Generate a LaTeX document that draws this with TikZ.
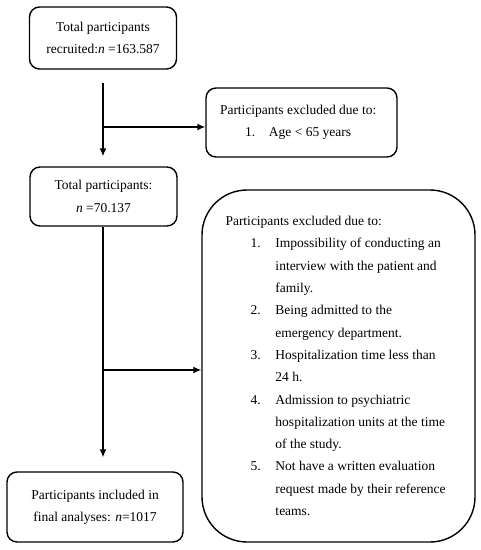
\documentclass[tikz,border=0pt]{standalone}
\usepackage{fontspec}
\setmainfont{Liberation Serif}
\usetikzlibrary{arrows.meta}
\begin{document}
\begin{tikzpicture}[x=1pt,y=-1pt,
  box/.style={draw,line width=1.4pt,rounded corners=10pt,inner sep=0pt,align=center,
    font=\fontsize{13.5}{22.3}\selectfont},
  bigbox/.style={draw,line width=1.4pt,rounded corners=45pt,inner sep=0pt,align=left,
    font=\fontsize{13.5}{22.3}\selectfont},
  conn/.style={line width=1.4pt,-{Latex[length=8pt,width=7pt]}}
]
\useasboundingbox (0,0) rectangle (481,550);
\node[box,minimum width=147pt,minimum height=62pt] (rec) at (103,38)
  {Total participants\\recruited:\textit{n} =163.587};
\node[box,minimum width=191pt,minimum height=69pt] (exc1) at (301.5,122.5)
  {\begin{minipage}{163pt}\fontsize{13.5}{22.3}\selectfont
   Participants excluded due to:\\
   \hspace*{25pt}\makebox[24pt][l]{1.}Age < 65 years\end{minipage}};
\node[box,minimum width=147pt,minimum height=59pt] (tot) at (103.5,196.5)
  {Total participants:\\\textit{n} =70.137};
\node[bigbox,minimum width=273pt,minimum height=352pt] (exc2) at (338.5,366)
  {\begin{minipage}{226pt}\fontsize{13.5}{22.3}\selectfont
   Participants excluded due to:\\
   \hspace*{25pt}\makebox[25pt][l]{1.}Impossibility of conducting an\\
   \hspace*{50pt}interview with the patient and\\
   \hspace*{50pt}family.\\
   \hspace*{25pt}\makebox[25pt][l]{2.}Being admitted to the\\
   \hspace*{50pt}emergency department.\\
   \hspace*{25pt}\makebox[25pt][l]{3.}Hospitalization time less than\\
   \hspace*{50pt}24 h.\\
   \hspace*{25pt}\makebox[25pt][l]{4.}Admission to psychiatric\\
   \hspace*{50pt}hospitalization units at the time\\
   \hspace*{50pt}of the study.\\
   \hspace*{25pt}\makebox[25pt][l]{5.}Not have a written evaluation\\
   \hspace*{50pt}request made by their reference\\
   \hspace*{50pt}teams.\end{minipage}};
\node[box,minimum width=176pt,minimum height=70pt] (fin) at (95,507)
  {Participants included in\\final analyses: \textit{n}=1017};
\coordinate (top1) at (103,83);
\coordinate (b1) at (103,127);
\coordinate (b2) at (103,370);
\draw[conn,shorten >=10pt] (top1) -- (top1 |- tot.north);
\draw[conn] (b1) -- (b1 -| exc1.west);
\draw[conn,shorten >=14pt] (top1 |- tot.south) -- (top1 |- fin.north);
\draw[conn] (b2) -- (b2 -| exc2.west);
\end{tikzpicture}
\end{document}
